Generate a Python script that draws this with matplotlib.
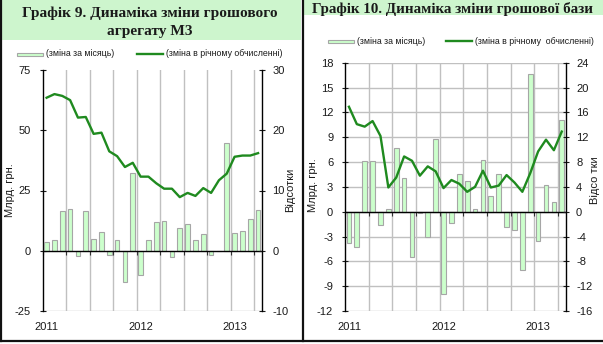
import numpy as np
import matplotlib.pyplot as plt
from matplotlib.patches import Rectangle
from matplotlib.lines import Line2D
import matplotlib.transforms as mtransforms

plt.rcParams['font.family'] = ['Liberation Sans', 'DejaVu Sans']
plt.rcParams['axes.unicode_minus'] = False

# ── Дані ─────────────────────────────────────────────────────────────────────
months = np.arange(28)                     # січень 2011 – квітень 2013
year_pos = [0, 12, 24]
year_labels = ['2011', '2012', '2013']

m3_month = [3.5, 4.3, 16.3, 17.2, -2.1, 16.3, 4.7, 7.7, -1.7, 4.3, -12.8, 32.2,
            -9.9, 4.3, 12.0, 12.4, -2.5, 9.5, 10.9, 4.3, 7.0, -1.7, -0.3, 44.6,
            7.4, 8.2, 13.0, 16.9]
m3_year = [25.4, 26.0, 25.7, 25.0, 22.1, 22.2, 19.4, 19.6, 16.5, 15.7, 13.9, 14.6,
           12.3, 12.3, 11.2, 10.3, 10.3, 8.9, 9.6, 9.1, 10.4, 9.6, 11.7, 12.8,
           15.6, 15.8, 15.8, 16.2]

mb_month = [-3.8, -4.3, 6.1, 6.1, -1.6, 0.3, 7.7, 4.1, -5.5, -0.1, -3.1, 8.8,
            -10.0, -1.4, 4.55, 3.7, 0.3, 6.2, 1.9, 4.6, -1.9, -2.2, -7.0, 16.6,
            -3.5, 3.2, 1.2, 11.1]
mb_year = [16.9, 14.1, 13.7, 14.6, 12.2, 3.9, 5.5, 8.9, 8.2, 5.8, 7.3, 6.5,
           3.8, 5.1, 4.5, 3.2, 4.0, 6.6, 3.9, 4.2, 5.9, 4.7, 3.2, 6.2,
           9.7, 11.6, 9.9, 12.9]

# ── Стиль ────────────────────────────────────────────────────────────────────
C = dict(bar='#ccffcc', edge='#a6a6a6', line='#1f8a1f', grid='#c0c0c0',
         title='#cdf5cd', text='#1a1a1a')
W, H = 603, 344

fig = plt.figure(figsize=(W / 100, H / 100), dpi=100)
fig.patch.set_facecolor('white')


def fx(px): return px / W
def fy(py): return 1 - py / H


def panel(rect, month, year, ylim, yticks, ylim2, yticks2, hgrid):
    ax = fig.add_axes(rect)
    ax.bar(months, month, width=0.6, color=C['bar'], edgecolor=C['edge'],
           linewidth=0.8, zorder=3)
    ax.set_xlim(-0.5, 27.5)
    ax.set_ylim(*ylim)
    ax.set_yticks(yticks)
    bounds = np.arange(-0.5, 27, 3)
    ax.set_xticks(bounds)
    ax.set_xticklabels([])
    for b in bounds[1:]:
        ax.axvline(b, color=C['grid'], linewidth=1.0, zorder=1)
    if hgrid:
        for t in yticks:
            ax.axhline(t, color=C['grid'], linewidth=1.0, zorder=1)
    else:
        ax.axhline(ylim[0], color=C['grid'], linewidth=1.0, zorder=1)
    ax.axhline(0, color='black', linewidth=1.0, zorder=4)
    ax.spines['bottom'].set_position(('data', 0))
    ax.spines['bottom'].set_visible(False)
    ax.spines['top'].set_visible(False)
    ax.spines['right'].set_visible(False)
    ax.spines['left'].set_linewidth(1.0)
    ax.tick_params(axis='x', direction='out', length=3, width=0.8, colors='#333333')
    ax.tick_params(axis='y', direction='inout', length=5, width=0.8,
                   labelsize=8, pad=6, colors=C['text'])
    tr = mtransforms.blended_transform_factory(ax.transData, ax.transAxes)
    for p, lab in zip(year_pos, year_labels):
        ax.text(p, -0.065, lab, transform=tr, ha='center', va='center',
                fontsize=8, color=C['text'])

    ax2 = ax.twinx()
    ax2.plot(months, year, color=C['line'], linewidth=1.7, zorder=5)
    ax2.set_ylim(*ylim2)
    ax2.set_yticks(yticks2)
    for sp in ['top', 'left', 'bottom']:
        ax2.spines[sp].set_visible(False)
    ax2.spines['right'].set_linewidth(1.0)
    ax2.tick_params(axis='y', direction='inout', length=5, width=0.8,
                    labelsize=8, pad=5, colors=C['text'])
    ax2.patch.set_visible(False)
    return ax, ax2


def legend(y, x_patch, x_line, txt2):
    fig.patches.append(Rectangle((fx(x_patch), fy(y + 2)), fx(26), 3 / H,
                                 facecolor=C['bar'], edgecolor=C['edge'],
                                 linewidth=0.8, transform=fig.transFigure))
    fig.text(fx(x_patch + 29), fy(y), '(зміна за місяць)', fontsize=6.3,
             va='center', ha='left', color=C['text'])
    fig.lines.append(Line2D([fx(x_line), fx(x_line + 26)], [fy(y), fy(y)],
                            color=C['line'], linewidth=1.7,
                            transform=fig.transFigure))
    fig.text(fx(x_line + 29), fy(y), txt2, fontsize=6.3,
             va='center', ha='left', color=C['text'])


# ── Графік 9 ─────────────────────────────────────────────────────────────────
fig.patches.append(Rectangle((fx(2), fy(40)), fx(299), 40 / H,
                             facecolor=C['title'], edgecolor='none',
                             transform=fig.transFigure, zorder=0))
fig.text(fx(150), fy(13), 'Графік 9. Динаміка зміни грошового',
         family='Liberation Serif', fontweight='bold', fontsize=11.1,
         ha='center', va='center', color=C['text'])
fig.text(fx(150), fy(31), 'агрегату М3',
         family='Liberation Serif', fontweight='bold', fontsize=11.1,
         ha='center', va='center', color=C['text'])
legend(54, 17, 137, '(зміна в річному обчисленні)')

axL, axL2 = panel([fx(42.7), fy(311), fx(262 - 42.7), (311 - 70) / H],
                  m3_month, m3_year, (-25, 75), [-25, 0, 25, 50, 75],
                  (-10, 30), [-10, 0, 10, 20, 30], False)
fig.text(fx(10), fy(190), 'Млрд. грн.', rotation=90, fontsize=8,
         ha='center', va='center', color=C['text'])
fig.text(fx(290), fy(190), 'Відсотки', rotation=90, fontsize=8,
         ha='center', va='center', color=C['text'])

# ── Графік 10 ────────────────────────────────────────────────────────────────
fig.patches.append(Rectangle((fx(304), fy(15)), fx(299), 15 / H,
                             facecolor=C['title'], edgecolor='none',
                             transform=fig.transFigure, zorder=0))
fig.text(fx(312), fy(9), 'Графік 10. Динаміка зміни грошової бази',
         family='Liberation Serif', fontweight='bold', fontsize=10.8,
         ha='left', va='center', color=C['text'])
legend(41, 328, 446, '(зміна в річному  обчисленні)')

axR, axR2 = panel([fx(345), fy(311), fx(565.7 - 345), (311 - 62.7) / H],
                  mb_month, mb_year, (-12, 18), list(range(-12, 19, 3)),
                  (-16, 24), list(range(-16, 25, 4)), True)
fig.text(fx(313), fy(185), 'Млрд. грн.', rotation=90, fontsize=8,
         ha='center', va='center', color=C['text'])
fig.text(fx(595), fy(180), 'Відсо тки', rotation=90, fontsize=8,
         ha='center', va='center', color=C['text'])

# ── Рамки ────────────────────────────────────────────────────────────────────
for xs, ys in [([1, 1], [0, 341]), ([303, 303], [0, 341]), ([1, 603], [341, 341])]:
    fig.lines.append(Line2D([fx(v) for v in xs], [fy(v) for v in ys],
                            color='#111111', linewidth=1.6,
                            transform=fig.transFigure))

fig.savefig('out.png', dpi=100, facecolor='white')
